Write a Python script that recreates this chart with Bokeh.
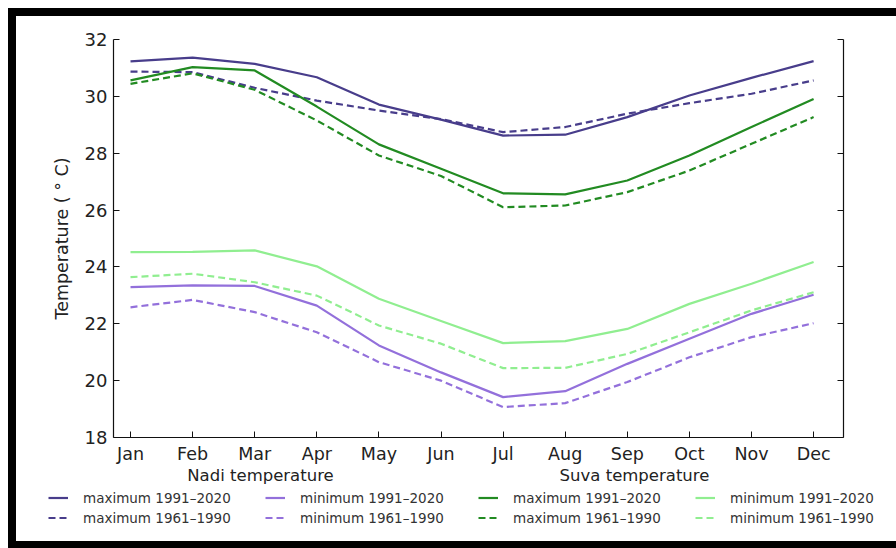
from bokeh.plotting import figure
from bokeh.models import (Legend, LegendItem, LinearAxis, FixedTicker, Range1d,
                          Label, Spacer)
from bokeh.layouts import column, row
from bokeh.embed import file_html
from bokeh.resources import INLINE

# ---------------- data ----------------
months = ["Jan", "Feb", "Mar", "Apr", "May", "Jun", "Jul", "Aug", "Sep", "Oct", "Nov", "Dec"]
y_ticks = [18, 20, 22, 24, 26, 28, 30, 32]
station_titles = ["Nadi temperature", "Suva temperature"]

nadi_max_1991_2020 = [31.23, 31.36, 31.14, 30.67, 29.71, 29.18, 28.62, 28.65, 29.27, 30.03, 30.65, 31.24]
nadi_max_1961_1990 = [30.87, 30.85, 30.30, 29.85, 29.50, 29.20, 28.74, 28.92, 29.39, 29.76, 30.09, 30.56]
nadi_min_1991_2020 = [23.29, 23.35, 23.33, 22.64, 21.24, 20.29, 19.42, 19.63, 20.59, 21.47, 22.35, 23.02]
nadi_min_1961_1990 = [22.58, 22.84, 22.41, 21.70, 20.65, 20.00, 19.07, 19.21, 19.95, 20.82, 21.53, 22.02]

suva_max_1991_2020 = [30.56, 31.03, 30.91, 29.64, 28.31, 27.45, 26.59, 26.55, 27.04, 27.92, 28.92, 29.91]
suva_max_1961_1990 = [30.44, 30.81, 30.23, 29.15, 27.92, 27.20, 26.10, 26.16, 26.63, 27.39, 28.33, 29.27]
suva_min_1991_2020 = [24.52, 24.53, 24.58, 24.02, 22.88, 22.10, 21.32, 21.39, 21.82, 22.70, 23.41, 24.17]
suva_min_1961_1990 = [23.64, 23.76, 23.46, 22.99, 21.94, 21.30, 20.44, 20.45, 20.94, 21.70, 22.47, 23.11]

x = list(range(len(months)))

FONT = "DejaVu Sans"
C_NADI_MAX = "#483d8b"   # darkslateblue
C_NADI_MIN = "#9370db"   # mediumpurple
C_SUVA_MAX = "#228b22"   # forestgreen
C_SUVA_MIN = "#90ee90"   # lightgreen
DASH = "7 4"
LW = 2.2

# axes box (in data units) and the view around it
X_LO, X_HI = -0.274, 11.48
Y_LO, Y_HI = 18, 32

# frame covers the whole canvas so that legends/titles below the axes are not clipped
p = figure(width=880, height=525,
           x_range=Range1d(-1.836, 12.335), y_range=Range1d(14.342, 32.808),
           x_axis_type=None, y_axis_type=None,
           output_backend="svg", toolbar_location=None, min_border=0)
p.outline_line_color = None
p.background_fill_color = "white"
p.border_fill_color = "white"


def style_axis(ax):
    ax.axis_line_color = "#111111"
    ax.axis_line_width = 1.2
    ax.major_tick_line_color = "#111111"
    ax.major_tick_line_width = 1
    ax.major_tick_in = 6
    ax.major_tick_out = 0
    ax.minor_tick_line_color = None
    ax.major_label_text_font = FONT
    ax.major_label_text_font_size = "18px"
    ax.major_label_text_color = "#222222"
    ax.major_label_standoff = 6


left = LinearAxis(ticker=FixedTicker(ticks=y_ticks), axis_label="Temperature ( ° C)",
                  fixed_location=X_LO, bounds=(Y_LO, Y_HI))
style_axis(left)
left.axis_label_text_font = FONT
left.axis_label_text_font_size = "17.5px"
left.axis_label_text_font_style = "normal"
left.axis_label_text_color = "#222222"
left.axis_label_standoff = 10
p.add_layout(left, "left")

right = LinearAxis(ticker=FixedTicker(ticks=y_ticks), fixed_location=X_HI, bounds=(Y_LO, Y_HI))
style_axis(right)
right.major_label_text_color = None
p.add_layout(right, "right")

bottom = LinearAxis(ticker=FixedTicker(ticks=x),
                    major_label_overrides={i: m for i, m in enumerate(months)},
                    fixed_location=Y_LO, bounds=(X_LO, X_HI))
style_axis(bottom)
bottom.major_label_text_font_size = "17.5px"
p.add_layout(bottom, "below")

# ---------------- lines ----------------
r_nmax = p.line(x, nadi_max_1991_2020, line_color=C_NADI_MAX, line_width=LW)
r_nmax_o = p.line(x, nadi_max_1961_1990, line_color=C_NADI_MAX, line_width=LW, line_dash=DASH)
r_nmin = p.line(x, nadi_min_1991_2020, line_color=C_NADI_MIN, line_width=LW)
r_nmin_o = p.line(x, nadi_min_1961_1990, line_color=C_NADI_MIN, line_width=LW, line_dash=DASH)
r_smax = p.line(x, suva_max_1991_2020, line_color=C_SUVA_MAX, line_width=LW)
r_smax_o = p.line(x, suva_max_1961_1990, line_color=C_SUVA_MAX, line_width=LW, line_dash=DASH)
r_smin = p.line(x, suva_min_1991_2020, line_color=C_SUVA_MIN, line_width=LW)
r_smin_o = p.line(x, suva_min_1961_1990, line_color=C_SUVA_MIN, line_width=LW, line_dash=DASH)


def make_legend(items, loc):
    leg = Legend(items=items, location=loc, orientation="horizontal", ncols=2)
    leg.border_line_color = None
    leg.background_fill_alpha = 0
    leg.padding = 0
    leg.margin = 0
    leg.spacing = 3
    leg.glyph_width = 20
    leg.glyph_height = 17
    leg.label_height = 17
    leg.label_width = 179
    leg.label_standoff = 15
    leg.label_text_font = FONT
    leg.label_text_font_size = "13.5px"
    leg.label_text_color = "#333333"
    return leg


p.add_layout(make_legend([
    LegendItem(label="maximum 1991–2020", renderers=[r_nmax]),
    LegendItem(label="minimum 1991–2020", renderers=[r_nmin]),
    LegendItem(label="maximum 1961–1990", renderers=[r_nmax_o]),
    LegendItem(label="minimum 1961–1990", renderers=[r_nmin_o]),
], (32, 15)))
p.add_layout(make_legend([
    LegendItem(label="maximum 1991–2020", renderers=[r_smax]),
    LegendItem(label="minimum 1991–2020", renderers=[r_smin]),
    LegendItem(label="maximum 1961–1990", renderers=[r_smax_o]),
    LegendItem(label="minimum 1961–1990", renderers=[r_smin_o]),
], (462, 15)))

for txt, cx in zip(station_titles, (244, 618)):
    p.add_layout(Label(x=cx, y=66, x_units="screen", y_units="screen", text=txt,
                       text_align="center", text_baseline="middle",
                       text_font=FONT, text_font_size="16.5px", text_color="#222222"))

# ---------------- black frame (as in the reference image) ----------------
BLACK = {"background-color": "black"}
inner = column(Spacer(width=888, height=8, styles=BLACK),
               row(Spacer(width=8, height=525, styles=BLACK), p),
               Spacer(width=888, height=7, styles=BLACK))
page = column(Spacer(width=896, height=8), row(Spacer(width=8, height=540), inner))

open("out.html", "w").write(file_html(page, INLINE))
